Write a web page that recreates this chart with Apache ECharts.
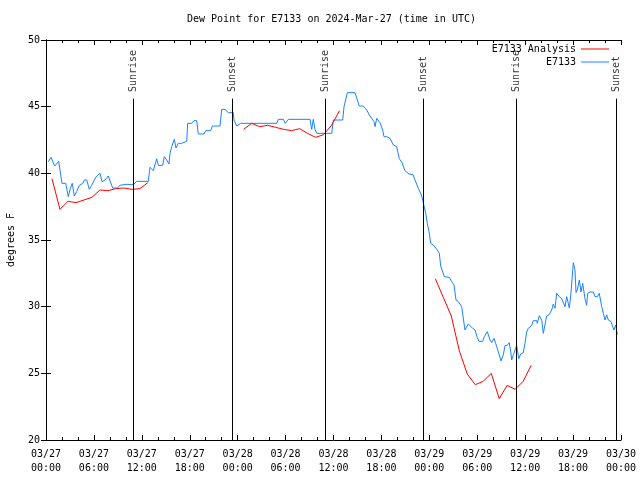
<!DOCTYPE html>
<html>
<head>
<meta charset="utf-8">
<script src="https://cdn.jsdelivr.net/npm/echarts@6/dist/echarts.min.js"></script>
<style>html,body{margin:0;padding:0;background:#fff}#c{width:640px;height:480px}</style>
</head>
<body>
<div id="c"></div>
<script>
// ---- data (hours since 2024-03-27 00:00 UTC) ----
var xTickLabels = ['03/27\n00:00','03/27\n06:00','03/27\n12:00','03/27\n18:00','03/28\n00:00','03/28\n06:00','03/28\n12:00','03/28\n18:00','03/29\n00:00','03/29\n06:00','03/29\n12:00','03/29\n18:00','03/30\n00:00'];
var yTicks = [20, 25, 30, 35, 40, 45, 50];

var obsHours = [0.29,0.63,0.84,1.09,1.34,1.59,1.84,2.0,2.47,2.79,3.04,3.29,3.54,3.84,4.17,4.6,4.8,5.1,5.42,5.72,6.05,6.35,6.76,7.01,7.39,7.8,8.01,8.35,8.93,9.27,10.02,10.73,11.02,11.36,12.81,13.02,13.44,13.86,14.06,14.61,14.81,15.11,15.4,15.53,15.74,16.07,16.28,16.57,16.99,17.19,17.62,17.74,18.24,18.53,18.87,19.07,19.78,20.0,20.62,20.83,21.79,22.0,22.41,22.83,23.45,23.54,23.88,24.38,28.89,29.09,29.72,29.96,30.34,33.06,33.27,33.47,33.68,33.9,35.78,35.98,37.15,37.32,37.73,38.69,39.23,39.73,40.16,40.48,41.07,41.2,41.41,41.82,42.16,42.32,42.66,43.07,43.49,43.91,44.24,44.58,44.95,45.45,45.95,46.21,46.62,47.05,47.25,47.55,47.75,47.96,48.17,48.5,48.71,49.0,49.25,49.42,49.67,49.88,50.5,50.8,51.09,51.34,51.63,51.84,52.05,52.25,52.46,52.68,52.88,53.09,53.43,53.72,54.0,54.21,54.68,54.88,55.26,55.6,55.81,56.1,56.31,56.56,56.76,56.97,57.26,57.48,57.76,58.01,58.23,58.31,58.52,58.73,58.94,59.19,59.44,59.77,59.98,60.19,60.39,60.6,60.82,61.02,61.44,61.52,61.77,62.07,62.27,62.48,62.69,62.98,63.32,63.52,63.74,63.95,64.28,64.57,64.78,64.99,65.2,65.4,65.53,65.74,66.03,66.24,66.37,66.53,66.78,66.99,67.2,67.49,67.7,67.83,68.12,68.33,68.53,68.75,69.04,69.28,69.58,69.79,70.0,70.21,70.41,70.75,70.96,71.12,71.34,71.46,71.54];
var obsDew = [40.87,41.2,41.2,40.55,40.55,40.9,40.9,39.25,39.25,38.25,38.85,39.25,38.3,38.63,39.1,39.25,39.5,39.5,38.8,39.1,39.5,39.8,40.0,39.37,39.5,39.8,39.8,38.9,38.9,39.1,39.18,39.15,39.2,39.4,39.4,40.45,40.2,41.1,40.6,40.6,41.25,41.0,40.7,41.5,42.0,42.55,41.9,42.25,42.25,42.4,42.4,43.75,43.75,43.95,43.95,42.95,42.95,43.2,43.2,43.55,43.55,44.8,44.8,44.55,44.55,44.0,43.55,43.75,43.75,44.05,44.05,43.75,44.05,44.05,43.3,44.05,43.3,43.0,43.0,44.0,44.0,45.0,46.05,46.05,45.05,45.05,44.75,44.38,43.88,43.5,44.12,43.8,43.25,42.75,42.75,42.63,42.13,42.0,41.1,40.8,40.2,39.95,39.9,39.5,38.88,38.3,38.25,37.0,36.25,35.63,34.75,34.63,34.7,34.25,34.0,33.05,32.95,32.25,32.2,31.88,31.63,30.5,30.38,30.3,30.0,29.95,28.25,28.3,28.7,28.75,28.38,28.25,27.7,27.4,27.4,27.75,28.13,27.5,27.3,27.63,27.25,27.2,26.38,25.93,26.38,27.08,27.1,27.3,26.45,26.0,26.4,26.75,27.08,26.1,26.45,26.55,27.25,28.1,28.38,28.3,28.6,28.95,28.95,28.75,29.33,29.0,28.0,28.0,29.3,29.38,29.75,30.2,29.88,31.0,30.75,30.6,30.7,30.0,30.75,30.25,29.9,31.05,33.3,32.75,31.05,31.25,32.0,31.1,31.75,30.6,30.1,31.0,31.1,30.95,31.1,30.75,30.75,31.0,30.0,29.5,29.0,29.38,29.0,28.88,28.5,28.25,28.63,28.2,27.9];

var anaHours = [0.75,1.75,2.75,3.75,4.75,5.75,6.75,7.75,8.75,9.75,10.75,11.75,12.75,
                24.75,25.75,26.75,27.75,28.75,29.75,30.75,31.75,32.75,33.75,34.75,35.75,36.75,
                48.75,49.75,50.75,51.75,52.75,53.75,54.75,55.75,56.75,57.75,58.75,59.75,60.75];
var anaDew = [39.6,37.3,37.9,37.8,38.0,38.2,38.75,38.7,38.85,38.9,38.8,38.85,39.3,
              43.3,43.75,43.5,43.6,43.45,43.3,43.2,43.35,43.0,42.7,42.9,43.6,44.7,
              32.1,30.7,29.3,26.7,24.95,24.15,24.4,25.0,23.1,24.1,23.8,24.4,25.6];

var eventHours = [10.93, 23.33, 34.97, 47.25, 58.85, 71.38];
var eventNames = ['Sunrise', 'Sunset', 'Sunrise', 'Sunset', 'Sunrise', 'Sunset'];
var eventLineTop = 45.6;
var eventLabelAt = 46.1;

// ---- build series data ----
var obsData = obsHours.map(function (h, i) { return [h, obsDew[i]]; });
var anaData = [];
for (var i = 0; i < anaHours.length; i++) {
  if (i > 0 && anaHours[i] - anaHours[i - 1] > 1.5) anaData.push([anaHours[i] - 1, null]);
  anaData.push([anaHours[i], anaDew[i]]);
}
var evLabelData = eventHours.map(function (h, i) { return { value: [h, eventLabelAt], name: eventNames[i] }; });
var evLines = eventHours.map(function (h) { return [{ coord: [h, 20] }, { coord: [h, eventLineTop] }]; });

var FONT = 'DejaVu Sans Mono';
var txt = { fontFamily: FONT, fontSize: 10, color: '#000' };
var RED = '#ff0000', BLUE = '#1784ff';

var chart = echarts.init(document.getElementById('c'), null, { renderer: 'canvas' });
var baseX = {
  type: 'value', min: 0, max: 72, interval: 6,
  axisLine: { show: true, lineStyle: { color: '#000', width: 1 } },
  axisTick: { show: true, inside: true, length: 5, lineStyle: { color: '#000' } },
  minorTick: { show: true, splitNumber: 3, length: 3, lineStyle: { color: '#000' } },
  splitLine: { show: false }
};
var baseY = {
  type: 'value', min: 20, max: 50, interval: 5,
  axisLine: { show: true, lineStyle: { color: '#000', width: 1 } },
  axisTick: { show: true, inside: true, length: 5, lineStyle: { color: '#000' } },
  splitLine: { show: false }
};
chart.setOption({
  animation: false,
  backgroundColor: '#fff',
  title: {
    text: 'Dew Point for E7133 on 2024-Mar-27 (time in UTC)',
    left: 187, top: 14, padding: 0,
    textStyle: { fontFamily: FONT, fontSize: 10, fontWeight: 'normal', color: '#000' }
  },
  legend: [
    { data: [{ name: 'E7133 Analysis', icon: 'rect', itemStyle: { color: RED } }], right: 31, top: 44, padding: 0, align: 'right', itemWidth: 28, itemHeight: 1, textStyle: txt },
    { data: [{ name: 'E7133', icon: 'rect', itemStyle: { color: BLUE } }], right: 31, top: 57, padding: 0, align: 'right', itemWidth: 28, itemHeight: 1, textStyle: txt }
  ],
  grid: { left: 46, right: 19, top: 40, bottom: 40, containLabel: false, outerBoundsMode: 'none' },
  xAxis: [
    Object.assign({}, baseX, {
      position: 'bottom',
      axisLabel: {
        show: true, margin: 7, fontFamily: FONT, fontSize: 10, color: '#000', lineHeight: 14,
        formatter: function (v) { return xTickLabels[Math.round(v / 6)]; }
      }
    }),
    Object.assign({}, baseX, { position: 'top', axisLabel: { show: false } })
  ],
  yAxis: [
    Object.assign({}, baseY, {
      position: 'left',
      name: 'degrees F', nameLocation: 'middle', nameRotate: 90, nameGap: 30,
      nameTextStyle: { fontFamily: FONT, fontSize: 10, color: '#000' },
      axisLabel: {
        show: true, margin: 6, fontFamily: FONT, fontSize: 10, color: '#000',
        formatter: function (v) { return yTicks.indexOf(v) >= 0 ? String(v) : ''; }
      }
    }),
    Object.assign({}, baseY, { position: 'right', axisLabel: { show: false } })
  ],
  series: [
    {
      name: 'E7133 Analysis', type: 'line', data: anaData,
      showSymbol: false, symbol: 'none', connectNulls: false,
      lineStyle: { color: RED, width: 1 }, itemStyle: { color: RED }, z: 4
    },
    {
      name: 'E7133', type: 'line', data: obsData,
      showSymbol: false, symbol: 'none',
      lineStyle: { color: BLUE, width: 1 }, itemStyle: { color: BLUE }, z: 3
    },
    {
      name: 'events', type: 'scatter', data: evLabelData, symbolSize: 0, silent: true, z: 5,
      label: {
        show: true, position: 'inside', rotate: 90, align: 'left', verticalAlign: 'middle',
        formatter: function (p) { return p.name; },
        fontFamily: FONT, fontSize: 10, color: '#000'
      },
      markLine: {
        silent: true, symbol: ['none', 'none'], animation: false,
        label: { show: false },
        lineStyle: { color: '#000', width: 1, type: 'solid' },
        emphasis: { disabled: true },
        data: evLines
      }
    }
  ]
});
</script>
</body>
</html>
